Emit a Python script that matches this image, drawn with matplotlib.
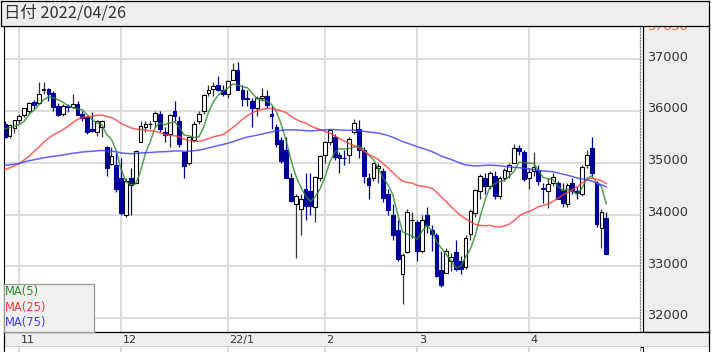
import numpy as np
import pandas as pd
import matplotlib
matplotlib.use("Agg")
import matplotlib.pyplot as plt

# trading days shown (NYSE calendar, holidays removed)
holidays = ["2021-11-25", "2021-12-24", "2022-01-17", "2022-02-21", "2022-04-15"]
dates = pd.bdate_range("2021-10-27", "2022-04-26").drop(pd.to_datetime(holidays))

opens = [35757, 35510, 35680, 35834, 35920, 36000, 36166, 36150, 36410, 36420,
         36340, 36100, 35950, 36100, 36070, 36140, 35950, 35880, 35650, 35600,
         35700, 35300, 34980, 34950, 34700, 34000, 34700, 34600, 35400, 35700,
         35750, 35800, 35950, 35600, 35550, 36000, 35800, 35200, 35000, 35450,
         35800, 36000, 36350, 36420, 36500, 36400, 36320, 36600, 36800, 36400,
         36250, 36200, 36050, 36250, 36300, 35950, 35700, 35450, 35250, 34700,
         34200, 34100, 34500, 34450, 34150, 34700, 35150, 35400, 35500, 35150,
         35100, 35150, 35600, 35650, 35250, 34700, 34700, 34900, 34850, 34400,
         34000, 33700, 32850, 33270, 33890, 33860, 33300, 33990, 33700, 33600,
         32930, 32870, 33100, 33280, 33100, 32990, 33620, 34030, 34450, 34700,
         34550, 34750, 34350, 34700, 34850, 35000, 35290, 35200, 34700, 34850,
         34860, 34520, 34450, 34600, 34600, 34470, 34200, 34600, 34450, 34400,
         34950, 35280, 34600, 33740, 33930]
highs = [35800, 35756, 35820, 35952, 36068, 36177, 36206, 36565, 36566, 36450,
         36380, 36150, 36128, 36140, 36320, 36200, 36000, 35900, 35990, 35830,
         35820, 35320, 35300, 35200, 35100, 34700, 34900, 35250, 35800, 35800,
         35800, 36000, 36000, 35700, 35950, 36200, 35900, 35200, 35500, 35800,
         36000, 36320, 36500, 36570, 36680, 36500, 36600, 36934, 36952, 36500,
         36400, 36250, 36300, 36450, 36400, 36100, 35750, 35500, 35500, 34800,
         34400, 34400, 34800, 34800, 34750, 35150, 35420, 35650, 35550, 35200,
         35250, 35500, 35840, 35830, 35300, 34800, 35000, 35000, 34900, 34500,
         34200, 33900, 33250, 34100, 34050, 33900, 34000, 34150, 33800, 33650,
         33300, 33350, 33250, 33500, 33200, 33600, 34100, 34500, 34780, 34800,
         34850, 34850, 34750, 34900, 34990, 35370, 35350, 35250, 34900, 35200,
         34950, 34600, 34700, 34800, 34650, 34600, 34600, 34700, 34550, 34950,
         35250, 35500, 34650, 34100, 34050]
lows = [35488, 35480, 35580, 35750, 35880, 35936, 36048, 36130, 36320, 36200,
        36000, 35900, 35900, 35990, 36050, 35920, 35800, 35550, 35600, 35520,
        35500, 34750, 34950, 34440, 34000, 33950, 34000, 34600, 35400, 35600,
        35650, 35700, 35600, 35400, 35300, 35800, 35300, 34700, 34950, 35400,
        35750, 35950, 36300, 36300, 36380, 36300, 36250, 36600, 36400, 36100,
        36100, 35700, 35900, 36200, 36050, 35650, 35300, 35000, 34700, 34250,
        33150, 33600, 33900, 34000, 33850, 34650, 35000, 35350, 35050, 34800,
        34950, 35000, 35550, 35100, 34600, 34300, 34650, 34600, 34250, 34000,
        33500, 33100, 32272, 33250, 33550, 33100, 33250, 33650, 33300, 32800,
        32600, 32870, 32900, 32900, 32850, 32950, 33500, 33950, 34300, 34400,
        34500, 34300, 34300, 34650, 34700, 35000, 35150, 34650, 34500, 34750,
        34580, 34230, 34120, 34550, 34300, 34150, 34150, 34400, 34300, 34350,
        34900, 34750, 33750, 33350, 33240]
closes = [35490, 35730, 35820, 35913, 36052, 36158, 36124, 36328, 36432, 36320,
          36080, 35921, 36100, 36087, 36142, 35931, 35870, 35602, 35619, 35814,
          35804, 34899, 35135, 34484, 34022, 34640, 34580, 35227, 35719, 35754,
          35754, 35971, 35650, 35544, 35927, 35898, 35365, 34932, 35493, 35754,
          35950, 36302, 36398, 36488, 36398, 36338, 36585, 36799, 36407, 36236,
          36231, 36068, 36252, 36290, 36113, 35911, 35368, 35029, 34715, 34265,
          34364, 34297, 34168, 34160, 34725, 35131, 35405, 35629, 35111, 35089,
          35091, 35462, 35768, 35241, 34738, 34566, 34988, 34934, 34312, 34079,
          33596, 33131, 33223, 34058, 33892, 33294, 33891, 33794, 33614, 32817,
          32632, 33286, 33174, 32944, 32945, 33544, 34063, 34480, 34754, 34552,
          34807, 34358, 34707, 34861, 34955, 35294, 35228, 34678, 34818, 34921,
          34641, 34496, 34583, 34721, 34308, 34220, 34564, 34451, 34411, 34911,
          35160, 34793, 33811, 34049, 33240]

# closes before the window, only used to warm up the moving averages
history = [34870, 34996, 34889, 34933, 34987, 34688, 33962, 34512, 34798, 34823,
           35062, 35144, 35059, 34930, 35085, 34935, 34838, 35117, 34793, 35065,
           35209, 35102, 35265, 35485, 35500, 35516, 35625, 35343, 34961, 34894,
           35120, 35336, 35367, 35406, 35214, 35456, 35400, 35361, 35313, 35444,
           35369, 35101, 35032, 34879, 34608, 34870, 34577, 34814, 34751, 34584,
           33970, 33919, 34258, 34765, 34798, 34870, 34300, 34390, 33844, 34326,
           34003, 34315, 34417, 34755, 34746, 34496, 34378, 34377, 34912, 35295,
           35259, 35458, 35609, 35603, 35677, 35741, 35757]

ma_periods = [5, 25, 75]
ma_colors = ["#2a8a2a", "#ff3b3b", "#3b3bff"]
y_ticks = [32000, 33000, 34000, 35000, 36000, 37000]
top_label = "37630"
month_labels = ["11", "12", "22/1", "2", "3", "4"]
header_text = "日付 2022/04/26"

W, H = 715, 352
GRID = "#d9d9d9"
PANEL = "#eeeeee"


def box(x0, y0, x1, y1):
    return [x0 / W, 1 - y1 / H, (x1 - x0) / W, (y1 - y0) / H]


n = len(closes)
idx = np.arange(n)
o, h, l, c = map(np.array, (opens, highs, lows, closes))

all_close = pd.Series(history + closes)
mas = {p: all_close.rolling(p).mean().values[len(history):] for p in ma_periods}

# first trading day of each month -> grid positions
month_pos = [i for i in range(1, n) if dates[i].month != dates[i - 1].month]

px = 4.851  # pixels per candle
x_left = (3.5 - 4.75) / px
x_right = (640 - 4.75) / px
y_lo, y_hi = 31729, 37644

fig = plt.figure(figsize=(W / 100, H / 100), dpi=100)
fig.patch.set_facecolor("white")

# main chart
ax = fig.add_axes(box(3.5, 26, 640, 332))
ax.set_xlim(x_left, x_right)
ax.set_ylim(y_lo, y_hi)
for v in y_ticks:
    ax.axhline(v, color=GRID, lw=1.3, zorder=0)
for m in month_pos:
    ax.axvline(m, color=GRID, lw=1.3, zorder=0)

up = c >= o
dn = ~up
ax.vlines(idx[up], l[up], h[up], color="#333333", lw=0.9, zorder=2)
ax.vlines(idx[dn], l[dn], h[dn], color="#000099", lw=0.9, zorder=2)
ax.bar(idx[up], c[up] - o[up], bottom=o[up], width=0.78, color="white",
       edgecolor="black", linewidth=0.8, zorder=3)
ax.bar(idx[dn], o[dn] - c[dn], bottom=c[dn], width=0.78, color="#000099",
       edgecolor="#000099", linewidth=0.8, zorder=3)

for p, col in zip(ma_periods, ma_colors):
    ax.plot(idx, mas[p], color=col, lw=1.1, alpha=0.8, zorder=4)

ax.set_xticks([])
ax.set_yticks([])
for s in ("top", "right"):
    ax.spines[s].set_linestyle((0, (1, 1.5)))
    ax.spines[s].set_color("#888888")
    ax.spines[s].set_linewidth(0.9)
ax.spines["left"].set_color("black")
ax.spines["bottom"].set_visible(False)

# legend box
lg = fig.add_axes(box(3.5, 284, 94, 332), zorder=5)
lg.set_facecolor("#f0f0f0")
lg.set_xticks([])
lg.set_yticks([])
for s in lg.spines.values():
    s.set_color("#999999")
    s.set_linewidth(0.9)
for k, (p, col) in enumerate(zip(ma_periods, ma_colors)):
    fig.text(5 / W, 1 - (291.7 + 15.5 * k) / H, f"MA({p})", color=col,
             fontsize=8.3, va="center", ha="left", zorder=6)

# right price panel
rp = fig.add_axes(box(643, 25, 709, 332))
rp.set_facecolor(PANEL)
rp.set_xlim(0, 1)
rp.set_ylim(y_lo, y_hi + 19.33)
rp.set_xticks([])
rp.set_yticks([])
for s in rp.spines.values():
    s.set_color("black")
    s.set_linewidth(0.9)
for v in y_ticks:
    rp.text(0.06, v + 40, str(v), fontsize=9.3, color="#333333",
            va="center", ha="left")
# axis top value, mostly hidden under the header like in the original
rp.text(0.06, 1 - 1.5 / 307, top_label, fontsize=9.3, color="#ff6633",
        va="center", ha="left", transform=rp.transAxes, clip_on=True)

# header
hd = fig.add_axes(box(0.5, 0.5, 709, 25.5), zorder=3)
hd.set_facecolor(PANEL)
hd.set_xticks([])
hd.set_yticks([])
for s in hd.spines.values():
    s.set_color("black")
    s.set_linewidth(0.9)
hd.text(3 / 708.5, 0.5, header_text, fontsize=11.8, color="#333333",
        va="center", ha="left", family=["Noto Sans CJK JP", "DejaVu Sans"])

# month bar
mb = fig.add_axes(box(3.5, 332, 709, 347))
mb.set_facecolor(PANEL)
mb.set_xlim(x_left, (709 - 4.75) / px)
mb.set_ylim(0, 1)
mb.set_xticks([])
mb.set_yticks([])
for s in mb.spines.values():
    s.set_color("black")
    s.set_linewidth(0.9)
for m, lab in zip(month_pos, month_labels):
    mb.text(m + 0.35, 0.45, lab, fontsize=8, color="#333333",
            va="center", ha="left")

# strip of the next pane under the month bar
st = fig.add_axes(box(3.5, 347, 640, 353))
st.set_xlim(x_left, x_right)
st.set_xticks([])
st.set_yticks([])
for m in month_pos:
    st.axvline(m, color=GRID, lw=1.3)
for s in ("top", "bottom"):
    st.spines[s].set_visible(False)
st.spines["right"].set_linestyle((0, (1, 1.5)))
st.spines["right"].set_color("#888888")
st2 = fig.add_axes(box(643, 347, 709, 353))
st2.set_facecolor("white")
st2.set_xticks([])
st2.set_yticks([])
st2.spines["top"].set_visible(False)
st2.spines["bottom"].set_visible(False)

fig.savefig("out.png", dpi=100)
